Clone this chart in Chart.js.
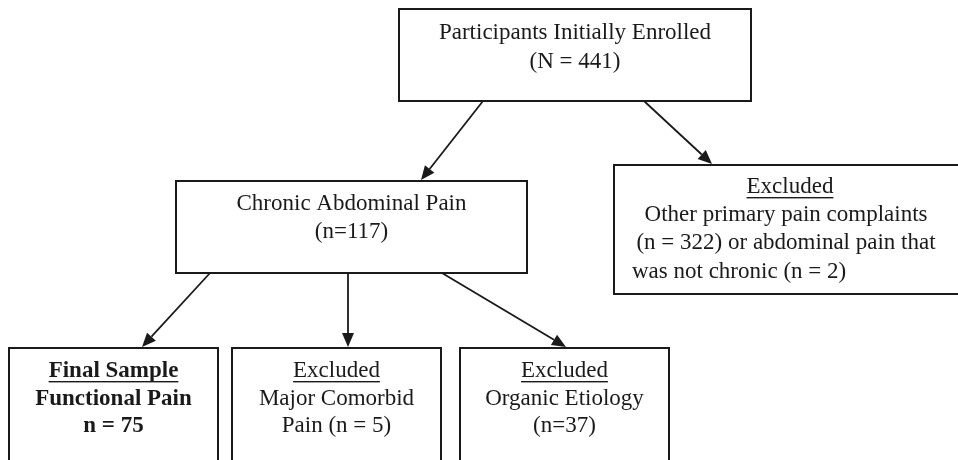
<!DOCTYPE html>
<html>
<head>
<meta charset="utf-8">
<script src="https://cdn.jsdelivr.net/npm/chart.js@4.4.1/dist/chart.umd.min.js"></script>
<style>
    html, body { margin: 0; padding: 0; background: #ffffff; }
    #wrap { width: 958px; height: 460px; position: relative; }
</style>
</head>
<body>
<div id="wrap"><canvas id="flow"></canvas></div>
<script>
// Flow chart content.
const nodeHeadings = [null, null, "Excluded", "Final Sample", "Excluded", "Excluded"];
const nodeLines = [
    ["Participants Initially Enrolled", "(N = 441)"],
    ["Chronic Abdominal Pain", "(n=117)"],
    ["Other primary pain complaints", "(n = 322) or abdominal pain that", "was not chronic (n = 2)"],
    ["Functional Pain", "n = 75"],
    ["Major Comorbid", "Pain (n = 5)"],
    ["Organic Etiology", "(n=37)"]
];
const nodeBold = [false, false, false, true, false, false];
// Which node points to which.
const links = [[0, 1], [0, 2], [1, 3], [1, 4], [1, 5]];

// Layout, in scale units (x 0..958, y 0..460 top down).
const boxRects = [
    [399, 9, 751, 101],
    [176, 181, 527, 273],
    [614, 165, 975, 294],
    [9, 348, 218, 480],
    [232, 348, 441, 480],
    [460, 348, 669, 480]
];
const lineRows = [
    [33, 62],
    [204, 232],
    [187, 215, 243, 272],
    [371, 399, 426],
    [371, 399, 426],
    [371, 399, 426]
];
// Start and end of each arrow, one per link.
const linkPaths = [
    [483, 101, 421, 180],
    [644, 101, 712, 164],
    [210, 273, 142, 347],
    [348, 273, 348, 347],
    [442, 273, 566, 347]
];

const FONT = "'Liberation Serif', 'Times New Roman', serif";
const SIZE = 23;
const INK = "#1a1a1a";

function drawArrow(ctx, x0, y0, x1, y1) {
    const ang = Math.atan2(y1 - y0, x1 - x0);
    const len = 14, half = 6;
    const bx = x1 - len * Math.cos(ang), by = y1 - len * Math.sin(ang);
    ctx.beginPath();
    ctx.moveTo(x0, y0);
    ctx.lineTo(bx, by);
    ctx.stroke();
    ctx.beginPath();
    ctx.moveTo(x1, y1);
    ctx.lineTo(bx + half * Math.sin(ang), by - half * Math.cos(ang));
    ctx.lineTo(bx - half * Math.sin(ang), by + half * Math.cos(ang));
    ctx.closePath();
    ctx.fill();
}

function textLine(ctx, str, x, y, bold, underline, align) {
    ctx.font = (bold ? "bold " : "") + SIZE + "px " + FONT;
    ctx.textAlign = align || "center";
    ctx.textBaseline = "middle";
    ctx.fillText(str, x, y);
    if (underline) {
        const w = ctx.measureText(str).width;
        ctx.fillRect(x - w / 2, y + 10, w, 1.4);
    }
}

const flowPlugin = {
    id: "flowPlugin",
    afterDraw(chart) {
        const ctx = chart.ctx;
        const xs = chart.scales.x, ys = chart.scales.y;
        const px = v => xs.getPixelForValue(v);
        const py = v => ys.getPixelForValue(v);
        ctx.save();
        ctx.strokeStyle = INK;
        ctx.fillStyle = INK;
        ctx.lineWidth = 2;

        // Boxes and their text.
        boxRects.forEach((r, i) => {
            const x0 = px(r[0]), y0 = py(r[1]), x1 = px(r[2]), y1 = py(r[3]);
            ctx.strokeRect(x0, y0, x1 - x0, y1 - y0);
            const rows = lineRows[i];
            // the right box runs off the page, so its text centre is set by hand
            const mid = i === 2 ? px(786) : (x0 + x1) / 2;
            let k = 0;
            if (nodeHeadings[i]) {
                textLine(ctx, nodeHeadings[i], i === 2 ? px(790) : mid, py(rows[0]), nodeBold[i], true);
                k = 1;
            }
            nodeLines[i].forEach((str, j) => {
                const y = py(rows[k + j]);
                if (i === 2 && j === nodeLines[i].length - 1) {
                    // last line of the justified paragraph sits on the left
                    textLine(ctx, str, px(632), y, false, false, "left");
                } else {
                    textLine(ctx, str, mid, y, nodeBold[i], false);
                }
            });
        });

        // Arrows.
        ctx.lineWidth = 1.8;
        linkPaths.forEach(p => drawArrow(ctx, px(p[0]), py(p[1]), px(p[2]), py(p[3])));
        ctx.restore();
    }
};

// One anchor point per node so the chart has its data.
const anchors = boxRects.map((r, i) => ({ x: (r[0] + Math.min(r[2], 958)) / 2, y: (r[1] + Math.min(r[3], 460)) / 2, node: i }));

new Chart(document.getElementById("flow"), {
    type: "scatter",
    data: {
        datasets: [{
            data: anchors,
            pointRadius: 0,
            pointHoverRadius: 0
        }]
    },
    options: {
        responsive: true,
        maintainAspectRatio: false,
        animation: false,
        layout: { padding: 0 },
        plugins: { legend: { display: false }, tooltip: { enabled: false } },
        scales: {
            x: { type: "linear", min: 0, max: 958, display: false },
            y: { type: "linear", min: 0, max: 460, reverse: true, display: false }
        }
    },
    plugins: [flowPlugin]
});
</script>
</body>
</html>
